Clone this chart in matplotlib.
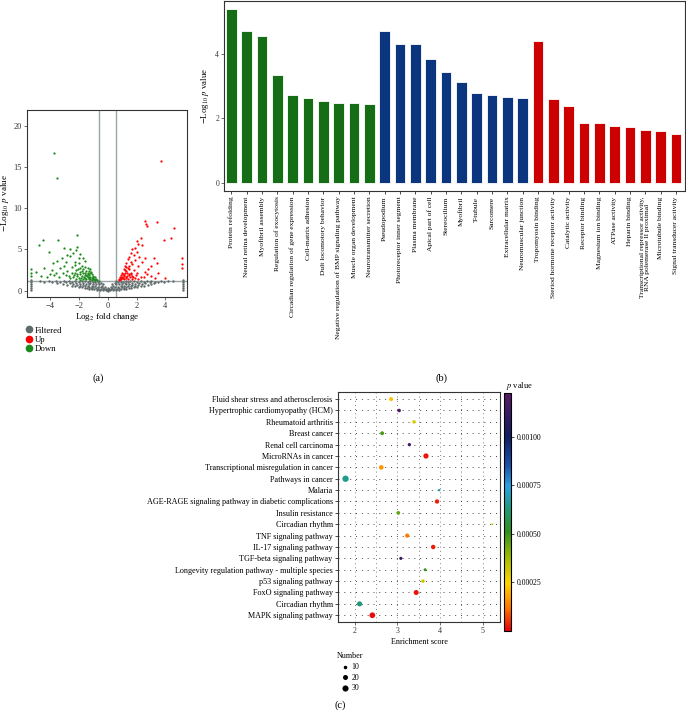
import numpy as np
import matplotlib
matplotlib.use("Agg")
import matplotlib.pyplot as plt
from matplotlib.colors import LinearSegmentedColormap, Normalize
from matplotlib.lines import Line2D

plt.rcParams['font.family'] = ['Liberation Serif', 'DejaVu Serif']
plt.rcParams['mathtext.fontset'] = 'stix'

# ---------------- (a) volcano ----------------
filt_pts = [(-5.3, 0.1), (-5.3, 0.35), (-5.3, 0.6), (-5.3, 0.85), (-5.3, 1.1), (-5.3, 1.25),
            (-4.7, 1.2), (-4.4, 1.1), (-4.1, 1.2), (-3.9, 1.0), (-3.6, 1.15), (-3.5, 0.9), (-3.3, 1.1),
            (-3.1, 0.8), (-3.0, 1.2), (-2.9, 1.0), (-2.8, 0.7), (-2.7, 1.15), (-2.6, 0.9), (-2.5, 0.6),
            (-2.5, 1.05), (-2.4, 0.8), (-2.3, 1.2), (-2.3, 0.55), (-2.2, 0.95), (-2.1, 0.7), (-2.0, 0.45),
            (-2.0, 1.1), (-1.9, 0.85), (-1.9, 0.6), (-1.8, 0.4), (-1.8, 1.2), (-1.7, 0.7), (-1.7, 0.95),
            (-1.6, 0.35), (-1.6, 0.55), (-1.55, 1.15), (-1.5, 0.8), (-1.45, 0.3), (-1.4, 1.0), (-1.4, 0.6),
            (-1.3, 0.25), (-1.3, 0.45), (-1.3, 0.8), (-1.25, 1.2), (-1.2, 0.95), (-1.15, 0.35), (-1.1, 0.6),
            (-1.1, 0.2), (-1.05, 1.1), (-1.0, 0.8), (-1.0, 0.45), (-0.95, 0.15), (-0.9, 0.6), (-0.9, 1.0),
            (-0.85, 1.25), (-0.8, 0.3), (-0.8, 0.8), (-0.75, 0.1), (-0.7, 0.5), (-0.7, 1.05), (-0.65, 0.25),
            (-0.6, 0.75), (-0.6, 1.2), (-0.55, 0.05), (-0.5, 0.4), (-0.5, 0.9), (-0.45, 0.2), (-0.4, 0.6),
            (-0.35, 0.05), (-0.3, 0.35), (-0.3, 0.75), (-0.25, 0.15), (-0.2, 0.5), (-0.15, 0.02), (-0.1, 0.25),
            (-0.05, 0.1), (0.0, -0.05), (0.0, 0.35),
            (0.05, 0.1), (0.1, 0.25), (0.15, 0.02), (0.2, 0.5), (0.25, 0.15), (0.3, 0.35), (0.3, 0.75),
            (0.35, 0.05), (0.4, 0.6), (0.45, 0.2), (0.5, 0.4), (0.5, 0.9), (0.55, 0.05), (0.6, 0.75),
            (0.6, 1.2), (0.65, 0.25), (0.7, 0.5), (0.7, 1.05), (0.75, 0.1), (0.8, 0.3), (0.8, 0.8),
            (0.85, 1.25), (0.9, 0.6), (0.9, 1.0), (0.95, 0.15), (1.0, 0.45), (1.0, 0.8), (1.05, 1.1),
            (1.1, 0.2), (1.1, 0.6), (1.15, 0.35), (1.2, 0.95), (1.25, 1.2), (1.3, 0.25), (1.3, 0.45),
            (1.3, 0.8), (1.4, 0.6), (1.4, 1.0), (1.45, 0.3), (1.5, 0.8), (1.55, 1.15), (1.6, 0.35),
            (1.6, 0.55), (1.7, 0.7), (1.7, 0.95), (1.8, 0.4), (1.8, 1.2), (1.9, 0.6), (1.9, 0.85),
            (2.0, 0.45), (2.0, 1.1), (2.1, 0.7), (2.2, 0.95), (2.3, 0.55), (2.3, 1.2), (2.4, 0.8),
            (2.5, 0.6), (2.5, 1.05), (2.6, 0.9), (2.7, 1.15), (2.8, 0.7), (2.9, 1.0), (3.0, 0.8),
            (3.0, 1.2), (3.2, 0.9), (3.3, 1.1), (3.5, 1.0), (3.7, 1.15), (3.9, 1.1), (4.2, 1.2),
            (4.5, 1.2), (5.2, 0.1), (5.2, 0.35), (5.2, 0.6), (5.2, 0.85), (5.2, 1.1), (5.2, 1.25)]

down_pts = [(-3.71, 16.7), (-3.54, 13.7), (-2.15, 6.75), (-4.47, 6.15), (-3.43, 6.15), (-4.75, 5.5),
            (-4.06, 4.73), (-2.15, 5.3), (-2.6, 5.1), (-2.4, 4.6), (-2.8, 4.3), (-3.0, 5.2), (-2.2, 4.9),
            (-1.9, 4.4), (-1.7, 4.0), (-3.2, 4.0), (-2.6, 4.2), (-2.0, 3.9), (-1.6, 3.6), (-3.5, 3.6),
            (-2.9, 3.5), (-3.8, 3.4), (-2.3, 3.5), (-5.33, 2.63), (-5.3, 2.2), (-5.3, 1.8), (-4.95, 2.3),
            (-4.6, 1.8), (-4.2, 1.6), (-4.4, 2.8), (-3.9, 2.5), (-3.6, 2.2), (-3.3, 2.7), (-3.1, 2.1),
            (-3.0, 3.0), (-2.8, 2.4), (-2.7, 1.8), (-2.5, 2.9), (-2.5, 2.2), (-2.4, 1.6), (-2.3, 3.1),
            (-2.2, 2.5), (-2.1, 2.0), (-2.0, 3.3), (-2.0, 1.5), (-1.9, 2.8), (-1.9, 2.3), (-1.8, 1.8),
            (-1.8, 3.0), (-1.7, 2.6), (-1.7, 2.1), (-1.6, 1.5), (-1.6, 2.9), (-1.5, 2.4), (-1.5, 1.9),
            (-1.4, 2.7), (-1.4, 2.2), (-1.4, 1.6), (-1.3, 2.4), (-1.3, 1.9), (-1.3, 1.45), (-1.2, 2.1),
            (-1.2, 1.7), (-1.1, 2.0), (-1.1, 1.5), (-1.0, 1.8), (-1.0, 1.4), (-0.9, 1.6), (-0.8, 1.45),
            (-0.75, 1.35), (-1.25, 2.6), (-1.15, 2.3), (-1.35, 2.0), (-1.45, 1.75), (-1.55, 2.1),
            (-1.65, 1.7), (-1.75, 2.35), (-1.85, 1.55), (-1.95, 2.0), (-2.05, 2.6), (-2.15, 1.8),
            (-2.25, 2.2), (-2.35, 1.9), (-2.6, 1.5), (-2.9, 1.9), (-3.4, 1.6), (-3.7, 1.9), (-4.0, 2.0),
            (-1.05, 1.6), (-0.95, 1.45), (-0.85, 1.35), (-1.1, 1.35), (-1.2, 1.4), (-1.5, 1.4),
            (-1.7, 1.4), (-1.9, 1.35), (-2.2, 1.4), (-1.3, 1.55), (-1.6, 1.85)]

up_pts = [(3.68, 15.7), (2.62, 8.4), (2.66, 8.1), (2.7, 7.8), (3.45, 8.3), (4.6, 7.6), (4.37, 6.4),
          (3.92, 6.2), (2.3, 6.4), (2.0, 6.0), (2.1, 5.6), (1.9, 5.2), (1.7, 5.0), (2.4, 5.5), (1.6, 4.6),
          (2.0, 4.7), (1.8, 4.3), (2.6, 4.0), (1.5, 4.1), (2.2, 4.1), (3.2, 3.9), (1.4, 3.8), (1.9, 3.7),
          (1.6, 3.5), (3.4, 3.4), (2.4, 3.5), (1.3, 3.4), (1.7, 3.2), (2.1, 3.0), (3.0, 3.0), (1.5, 3.0),
          (1.2, 3.0), (2.8, 2.6), (1.4, 2.7), (1.8, 2.5), (1.1, 2.6), (1.3, 2.4), (1.6, 2.2), (2.0, 2.2),
          (3.5, 2.2), (1.0, 2.2), (1.2, 2.1), (1.45, 2.0), (2.7, 2.0), (0.95, 1.9), (1.15, 1.8),
          (1.35, 1.75), (1.7, 1.8), (2.3, 1.7), (0.85, 1.6), (1.05, 1.55), (1.25, 1.5), (1.55, 1.6),
          (1.9, 1.5), (0.75, 1.4), (0.95, 1.4), (1.15, 1.4), (1.4, 1.4), (1.7, 1.4), (2.1, 1.4),
          (3.0, 1.8), (2.5, 1.6), (5.16, 3.95), (5.16, 3.2), (5.16, 2.75), (4.0, 1.5), (1.1, 1.95),
          (1.2, 2.5), (1.3, 2.85), (1.0, 1.7), (0.9, 1.5), (1.35, 2.2), (1.5, 2.6), (1.25, 1.65),
          (1.45, 1.85), (1.6, 2.0), (1.05, 2.05), (0.8, 1.35), (1.75, 1.6), (1.95, 1.9), (2.6, 2.3),
          (3.3, 1.5)]

fc_cut = 0.58
p_cut = 1.2

# ---------------- (b) GO bars ----------------
bp_terms = ["Protein refolding", "Neural retina development", "Myofibril assembly",
            "Regulation of exocytosis", "Circadian regulation of gene expression",
            "Cell-matrix adhesion", "Dult locomotory behavior",
            "Negative regulation of BMP signaling pathway", "Muscle organ development",
            "Neurotransmitter secretion"]
bp_vals = [5.39, 4.73, 4.56, 3.34, 2.73, 2.62, 2.53, 2.49, 2.49, 2.45]
cc_terms = ["Pseudopodium", "Photoreceptor inner segment", "Plasma membrane", "Apical part of cell",
            "Stereocilium", "Myofibril", "T-tubule", "Sarcomere", "Extracellular matrix",
            "Neuromuscular junction"]
cc_vals = [4.73, 4.31, 4.31, 3.86, 3.44, 3.13, 2.78, 2.72, 2.67, 2.63]
mf_terms = ["Tropomyosin binding", "Steriod hormone receptor activity", "Catalytic activity",
            "Receptor binding", "Magnesium ion binding", "ATPase activity", "Heparin binding",
            "Transcriptional repressor activity,\nRNA polemerase II proximal", "Microtubule binding",
            "Signal transducer activity"]
mf_vals = [4.40, 2.59, 2.38, 1.87, 1.84, 1.75, 1.73, 1.63, 1.60, 1.51]

# ---------------- (c) KEGG dots ----------------
kegg_terms = ["Fluid shear stress and atherosclerosis", "Hypertrophic cardiomyopathy (HCM)",
              "Rheumatoid arthritis", "Breast cancer", "Renal cell carcinoma", "MicroRNAs in cancer",
              "Transcriptional misregulation in cancer", "Pathways in cancer", "Malaria",
              "AGE-RAGE signaling pathway in diabetic complications", "Insulin resistance",
              "Circadian rhythm", "TNF signaling pathway", "IL-17 signaling pathway",
              "TGF-beta signaling pathway", "Longevity regulation pathway - multiple species",
              "p53 signaling pathway", "FoxO signaling pathway", "Circadian rhythm",
              "MAPK signaling pathway"]
kegg_score = [2.85, 3.04, 3.39, 2.64, 3.28, 3.67, 2.62, 1.78, 3.98, 3.93, 3.02, 5.23, 3.23, 3.84,
              3.08, 3.65, 3.60, 3.44, 2.11, 2.41]
kegg_count = [13, 10, 10, 12, 9, 22, 17, 32, 5, 15, 11, 3, 14, 16, 8, 7, 10, 20, 21, 26]
kegg_p = [0.00022, 0.00120, 0.00030, 0.00048, 0.00118, 0.00002, 0.00016, 0.00065, 0.00068,
          0.00003, 0.00045, 0.00033, 0.00012, 0.00003, 0.00112, 0.00050, 0.00032, 0.00002,
          0.00063, 0.00001]
size_levels = [10, 20, 30]

pcmap = LinearSegmentedColormap.from_list("pv", [
    (0.0, "#e8000b"), (0.1, "#ff7a00"), (0.2, "#ffd500"), (0.3, "#a8bf00"),
    (0.42, "#2f8f1f"), (0.52, "#1f9a80"), (0.61, "#2aa3e0"), (0.7, "#1a4fa8"),
    (0.82, "#101c60"), (1.0, "#5a1a66")])

fig = plt.figure(figsize=(6.86, 7.10), dpi=100)

# (a)
ax1 = fig.add_axes([27 / 686, 1 - 297 / 710, 160 / 686, 187 / 710])
fx, fy = zip(*filt_pts)
dx, dy = zip(*down_pts)
ux, uy = zip(*up_pts)
ax1.scatter(fx, fy, s=3, color="#5f6a6a", lw=0)
ax1.scatter(dx, dy, s=2.6, color="#1a8a1a", lw=0)
ax1.scatter(ux, uy, s=2.6, color="#ff0000", lw=0)
ax1.axvline(-fc_cut, color="#9aa6a6", lw=1, zorder=0)
ax1.axvline(fc_cut, color="#9aa6a6", lw=1, zorder=0)
ax1.axhline(p_cut, color="#9aa6a6", lw=1, zorder=0)
ax1.set_xlim(-5.6, 5.5)
ax1.set_ylim(-0.77, 21.9)
ax1.set_xticks([-4, -2, 0, 2, 4])
ax1.set_yticks([0, 5, 10, 15, 20])
ax1.tick_params(labelsize=6, length=2, width=0.5, pad=1.5, colors="#333333")
ax1.set_xlabel(r"Log$_2$ fold change", fontsize=6.5, labelpad=1)
ax1.set_ylabel(r"$-$Log$_{10}$ $p$ value", fontsize=6.5, labelpad=2)
for s in ax1.spines.values():
    s.set_linewidth(0.8)
    s.set_color("#333333")
hand = [Line2D([], [], marker="o", ls="", color=c, ms=4.5) for c in ["#5f6a6a", "#ff0000", "#1a8a1a"]]
ax1.legend(hand, ["Filtered", "Up", "Down"], loc="upper left", bbox_to_anchor=(20 / 686, 1 - 322 / 710),
           bbox_transform=fig.transFigure, frameon=False, fontsize=6.3, handletextpad=0.2,
           labelspacing=0.15, borderpad=0, handlelength=1)
fig.text(98 / 686, 1 - 378 / 710, "(a)", fontsize=7.5, ha="center", va="center")

# (b)
ax2 = fig.add_axes([224 / 686, 1 - 191 / 710, 461 / 686, 190 / 710])
terms = bp_terms + cc_terms + mf_terms
vals = bp_vals + cc_vals + mf_vals
cols = ["#156e16"] * len(bp_vals) + ["#0b357e"] * len(cc_vals) + ["#cc0000"] * len(mf_vals)
xpos = np.arange(len(vals))
ax2.bar(xpos, vals, width=0.68, color=cols, edgecolor="white", linewidth=0.6)
ax2.set_xlim(-0.48, len(vals) - 0.41)
ax2.set_ylim(-0.26, 5.65)
ax2.set_yticks([0, 2, 4])
ax2.set_xticks(xpos)
ax2.set_xticklabels(terms, rotation=90, fontsize=5.4, va="top", ha="center", linespacing=0.95)
ax2.tick_params(axis="x", length=2, width=0.5, pad=2)
ax2.tick_params(axis="y", labelsize=5.5, length=2, width=0.5, pad=1.5, colors="#333333")
ax2.set_ylabel(r"$-$Log$_{10}$ $p$ value", fontsize=6.3, labelpad=3)
for s in ax2.spines.values():
    s.set_linewidth(0.8)
    s.set_color("#333333")
fig.text(441 / 686, 1 - 378 / 710, "(b)", fontsize=7.5, ha="center", va="center")

# (c)
ax3 = fig.add_axes([338.3 / 686, 1 - 621.5 / 710, 161.7 / 686, 229.2 / 710])
ypos = np.arange(len(kegg_terms))[::-1]
for xv in np.arange(1.5, 5.6, 0.5):
    ax3.axvline(xv, color="#555555", lw=0.6, ls=(0, (1, 4)), zorder=0)
for yv in ypos:
    ax3.axhline(yv, color="#444444", lw=0.7, ls=(0, (1, 5)), zorder=0)
norm = Normalize(0, 0.001225)
sc = ax3.scatter(kegg_score, ypos, s=np.array(kegg_count) * 0.65, c=kegg_p, cmap=pcmap,
                 norm=norm, lw=0, zorder=3)
ax3.set_xlim(1.61, 5.41)
ax3.set_ylim(-0.55, len(kegg_terms) - 0.4)
ax3.set_xticks([2, 3, 4, 5])
ax3.set_yticks(ypos)
ax3.set_yticklabels(kegg_terms, fontsize=5.9)
ax3.tick_params(axis="y", length=2, width=0.5, pad=2)
ax3.tick_params(axis="x", labelsize=5.7, length=2, width=0.5, pad=2, colors="#333333")
ax3.set_xlabel("Enrichment score", fontsize=5.9, labelpad=2)
for s in ax3.spines.values():
    s.set_linewidth(0.8)
    s.set_color("#333333")

cax = fig.add_axes([504 / 686, 1 - 631 / 710, 7.4 / 686, 237.7 / 710])
cb = fig.colorbar(sc, cax=cax, ticks=[0.00025, 0.0005, 0.00075, 0.001], format="%.5f")
cb.ax.tick_params(labelsize=5.6, length=2, width=0.5, pad=1.5)
cb.outline.set_linewidth(0.8)
fig.text(506 / 686, 1 - 386 / 710, r"$p$ value", fontsize=6, ha="left", va="center")

shand = [plt.scatter([], [], s=n * 0.65, color="black", lw=0) for n in size_levels]
ax3.legend(shand, [str(n) for n in size_levels], title="Number", loc="upper left",
           bbox_to_anchor=(333 / 686, 1 - 648 / 710), bbox_transform=fig.transFigure,
           frameon=False, fontsize=5.7, title_fontsize=5.9, handletextpad=0.3,
           labelspacing=0.35, borderpad=0, handlelength=1)
fig.text(340 / 686, 1 - 705 / 710, "(c)", fontsize=7.5, ha="center", va="center")

fig.savefig("out.png", dpi=100)
